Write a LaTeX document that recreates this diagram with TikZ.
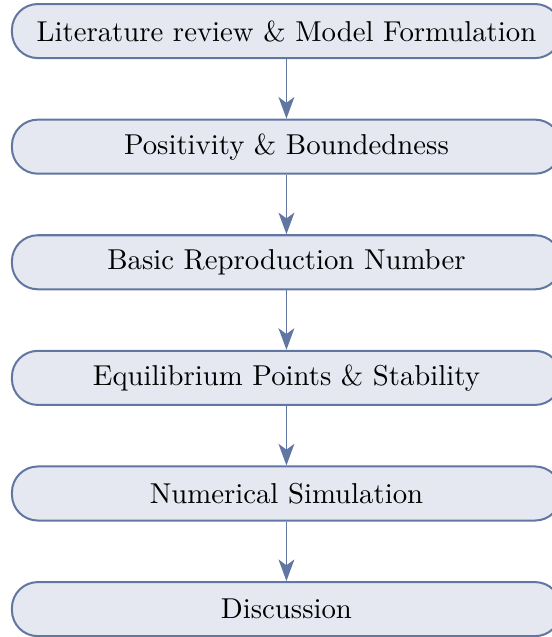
\documentclass[tikz,border=0pt]{standalone}
\usepackage{tikz}
\usetikzlibrary{arrows.meta, positioning}

\definecolor{stageline}{RGB}{98,118,162}
\definecolor{stagefill}{RGB}{229,232,241}

\begin{document}
\begin{tikzpicture}[
  stage/.style={draw=stageline, line width=0.7pt, rounded corners=9pt, fill=stagefill, minimum width=190.9pt, minimum height=18.8pt, align=center},
  arr/.style={-{Stealth[length=7.5pt, width=5.5pt, inset=2pt]}, draw=stageline, fill=stageline, line width=0.65pt},
  node distance=20.7pt,
]
\useasboundingbox (0,0) rectangle (191.9pt,-221.5pt);

% Stages of the study
\node[stage] (lit) at (99.6pt,-10.8pt) {Literature review \& Model Formulation};
\node[stage, below=of lit] (pos) {Positivity \& Boundedness};
\node[stage, below=of pos] (repro) {Basic Reproduction Number};
\node[stage, below=of repro] (equil) {Equilibrium Points \& Stability};
\node[stage, below=of equil] (sim) {Numerical Simulation};
\node[stage, below=of sim] (disc) {Discussion};

% Arrows
\draw[arr] (lit) -- (pos);
\draw[arr] (pos) -- (repro);
\draw[arr] (repro) -- (equil);
\draw[arr] (equil) -- (sim);
\draw[arr] (sim) -- (disc);

\end{tikzpicture}
\end{document}
